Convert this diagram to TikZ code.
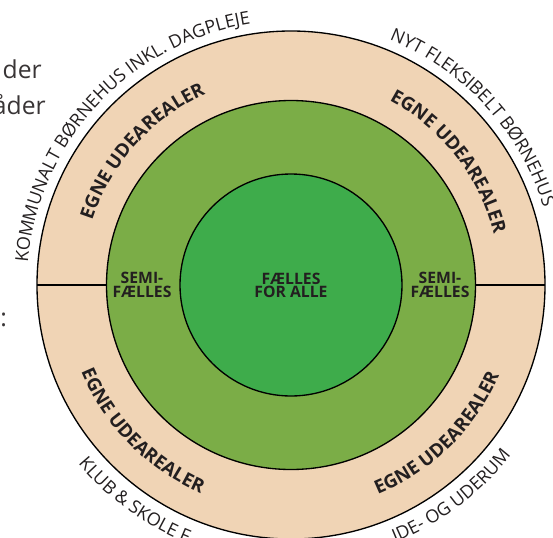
\documentclass[tikz,border=0pt]{standalone}
\usepackage{fontspec}
\setmainfont{Open Sans}
\usetikzlibrary{decorations.text}
\definecolor{ringbeige}{RGB}{240,212,181}
\definecolor{midgreen}{RGB}{123,173,71}
\definecolor{coregreen}{RGB}{62,172,75}
\definecolor{ink}{RGB}{35,31,32}
\newcommand\ringfont{\bfseries\fontsize{14}{14}\selectfont}
\newcommand\edgefont{\fontsize{13.5}{14}\selectfont}

\begin{document}
\begin{tikzpicture}[x=0.75pt, y=0.75pt,
    ring/.style={draw=black, line width=1pt},
    zone/.style={font=\bfseries\fontsize{11.8}{10.2}\selectfont, text=ink, align=center, inner sep=0pt},
    side/.style={font=\fontsize{18.5}{22}\selectfont, text=ink!90, inner sep=0pt},
    arctext/.style={decorate, decoration={text along path, text color=ink, #1}}]
    \useasboundingbox (-291,-252) rectangle (262,285);
    \clip (-291,-252) rectangle (262,285);
    % rings
    \filldraw[ring, fill=ringbeige] (0,0) circle (254);
    \filldraw[ring, fill=midgreen] (0,0) circle (184.5);
    \filldraw[ring, fill=coregreen] (0,0) circle (111);
    \draw[ring] (-254,0) -- (-184.5,0);
    \draw[ring] (184.5,0) -- (254,0);
    % labels inside
    \node[zone] (faelles) at (0,-0.5) {FÆLLES\\FOR ALLE};
    \node[zone] (semil) at (-149,0) {SEMI-\\FÆLLES};
    \node[zone] (semir) at (149,0) {SEMI-\\FÆLLES};
    % egne udearealer
    \path[arctext={text align=center, text={|\ringfont|EGNE UDEAREALER}}]
        (183:209) arc[start angle=183, end angle=93, radius=209];
    \path[arctext={text align=center, text={|\ringfont|EGNE UDEAREALER}}]
        (83:209) arc[start angle=83, end angle=-7, radius=209];
    \path[arctext={text align=center, text={|\ringfont|EGNE UDEAREALER}}]
        (-180.5:227) arc[start angle=-180.5, end angle=-90.5, radius=227];
    \path[arctext={text align=center, text={|\ringfont|EGNE UDEAREALER}}]
        (-90.5:227) arc[start angle=-90.5, end angle=-0.5, radius=227];
    % outer texts
    \path[arctext={text align=center, text={|\edgefont|KOMMUNALT BØRNEHUS INKL. DAGPLEJE}}]
        (182:264) arc[start angle=182, end angle=92, radius=264];
    \path[arctext={text align=center, text={|\edgefont|NYT FLEKSIBELT BØRNEHUS}}]
        (87.6:264) arc[start angle=87.6, end angle=-2.4, radius=264];
    \path[arctext={text align=left, text={|\edgefont|KLUB {\&} SKOLE F}}]
        (-140:278) arc[start angle=-140, end angle=-50, radius=278];
    \path[arctext={text align=right, text={|\edgefont|IDE- OG UDERUM}}]
        (-130:278) arc[start angle=-130, end angle=-37.7, radius=278];
    % cut text at the left edge
    \node[side, anchor=base east] (der) at (-249,207) {der};
    \node[side, anchor=base east] (aader) at (-245,171) {åder};
    \node[side, anchor=base west] (colon) at (-291,-41) {:};
\end{tikzpicture}
\end{document}
